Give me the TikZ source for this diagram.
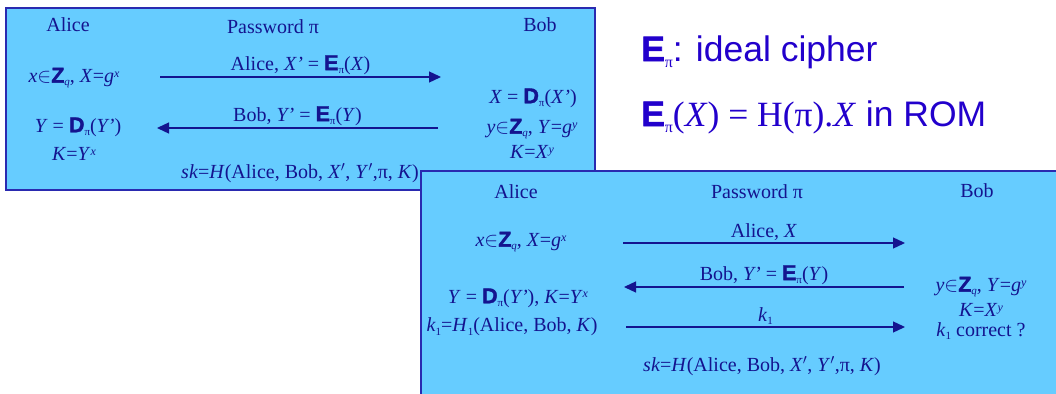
\documentclass[tikz,border=0pt]{standalone}
\usepackage{fontspec}
\setmainfont{Liberation Serif}
\setsansfont{Liberation Sans}
\newfontfamily\heavyfont{Liberation Sans}[BoldFeatures={FakeBold=1.6}]
\usetikzlibrary{arrows.meta}
\definecolor{boxfill}{HTML}{66CCFF}
\definecolor{boxline}{HTML}{2A2AB0}
\definecolor{ink}{HTML}{14148F}
\definecolor{vivid}{HTML}{2200CC}
\newcommand{\hv}[1]{{\heavyfont\bfseries\fontsize{21.5}{23}\selectfont #1}}
\newcommand{\bE}{\hv{E}}
\newcommand{\bD}{\hv{D}}
\newcommand{\bZ}{\hv{Z}}
\newcommand{\sub}[1]{\raisebox{-0.35ex}{\fontsize{11}{11}\selectfont #1}}
\newcommand{\sups}[1]{\raisebox{0.6ex}{\fontsize{12}{12}\selectfont #1}}
\tikzset{
  panel/.style={fill=boxfill, draw=boxline, line width=1.3pt},
  lbl/.style={text=ink, font=\fontsize{20}{23}\selectfont, inner sep=0pt, anchor=center, align=center},
  msg/.style={draw=ink, line width=1.3pt, -{Triangle[length=12pt,width=11pt]}},
  big/.style={text=vivid, font=\fontsize{35.5}{38}\selectfont\sffamily, inner sep=0pt, anchor=west}
}
\begin{document}
\begin{tikzpicture}[x=1pt,y=-1pt]
\useasboundingbox (0,0) rectangle (1056,393);
\clip (0,0) rectangle (1056,393);
% panel 1
\draw[panel] (6,8) rectangle (595,190);
\node[lbl] (a1) at (68,25) {Alice};
\node[lbl] (p1) at (273,27) {Password π};
\node[lbl] (b1) at (540,25) {Bob};
\node[lbl] (a1s) at (74,78) {\textit{x}$\in$\bZ\sub{\textit{q}}, \textit{X}=\textit{g}\sups{\textit{x}}};
\coordinate (m1s) at (160,77);
\coordinate (m1e) at (441,77);
\draw[msg] (m1s) -- (m1e) node[lbl, midway, above=2pt] {Alice, \textit{X'} = \bE\sub{π}(\textit{X})};
\node[lbl] (b1d) at (533,98) {\textit{X} = \bD\sub{π}(\textit{X'})};
\coordinate (m2s) at (438,128);
\coordinate (m2e) at (157,128);
\draw[msg] (m2s) -- (m2e) node[lbl, midway, above=2pt] {Bob, \textit{Y'} = \bE\sub{π}(\textit{Y})};
\node[lbl] (a1d) at (78,127) {\textit{Y} = \bD\sub{π}(\textit{Y'})};
\node[lbl] (a1k) at (74,154) {\textit{K}=\textit{Y}\sups{\textit{x}}};
\node[lbl] (b1y) at (532,129) {\textit{y}$\in$\bZ\sub{\textit{q}}, \textit{Y}=\textit{g}\sups{\textit{y}}};
\node[lbl] (b1k) at (532,152) {\textit{K}=\textit{X}\sups{\textit{y}}};
\node[lbl] (sk1) at (300,173) {\textit{sk}=\textit{H}(Alice, Bob, \textit{X}$'$, \textit{Y}$'$,π, \textit{K})};
% right text
\node[big] (t1) at (641,52) {{\heavyfont\bfseries E}\sub{\rmfamily\fontsize{16}{16}\selectfont π}: ideal cipher};
\node[big] (t2) at (641,117) {{\heavyfont\bfseries E}\sub{\rmfamily\fontsize{16}{16}\selectfont π}{\rmfamily(\textit{X}) = H(π).\textit{X}} in ROM};
% panel 2
\draw[panel] (421,171) rectangle (1070,400);
\node[lbl] (a2) at (516,192) {Alice};
\node[lbl] (p2) at (757,192) {Password π};
\node[lbl] (b2) at (977,191) {Bob};
\node[lbl] (a2s) at (521,242) {\textit{x}$\in$\bZ\sub{\textit{q}}, \textit{X}=\textit{g}\sups{\textit{x}}};
\coordinate (n1s) at (623,243);
\coordinate (n1e) at (905,243);
\draw[msg] (n1s) -- (n1e) node[lbl, midway, above=2pt] {Alice, \textit{X}};
\coordinate (n2s) at (904,287);
\coordinate (n2e) at (624,287);
\draw[msg] (n2s) -- (n2e) node[lbl, midway, above=2pt] {Bob, \textit{Y'} = \bE\sub{π}(\textit{Y})};
\node[lbl] (b2y) at (981,287) {\textit{y}$\in$\bZ\sub{\textit{q}}, \textit{Y}=\textit{g}\sups{\textit{y}}};
\node[lbl] (a2d) at (518,298) {\textit{Y} = \bD\sub{π}(\textit{Y'}), \textit{K}=\textit{Y}\sups{\textit{x}}};
\node[lbl] (b2k) at (981,310) {\textit{K}=\textit{X}\sups{\textit{y}}};
\node[lbl] (a2k) at (512,327) {\textit{k}\sub{1}=\textit{H}\sub{1}(Alice, Bob, \textit{K})};
\coordinate (n3s) at (626,327);
\coordinate (n3e) at (905,327);
\draw[msg] (n3s) -- (n3e) node[lbl, midway, above=2pt] {\textit{k}\sub{1}};
\node[lbl] (b2c) at (981,331) {\textit{k}\sub{1} correct ?};
\node[lbl] (sk2) at (762,366) {\textit{sk}=\textit{H}(Alice, Bob, \textit{X}$'$, \textit{Y}$'$,π, \textit{K})};
\end{tikzpicture}
\end{document}
